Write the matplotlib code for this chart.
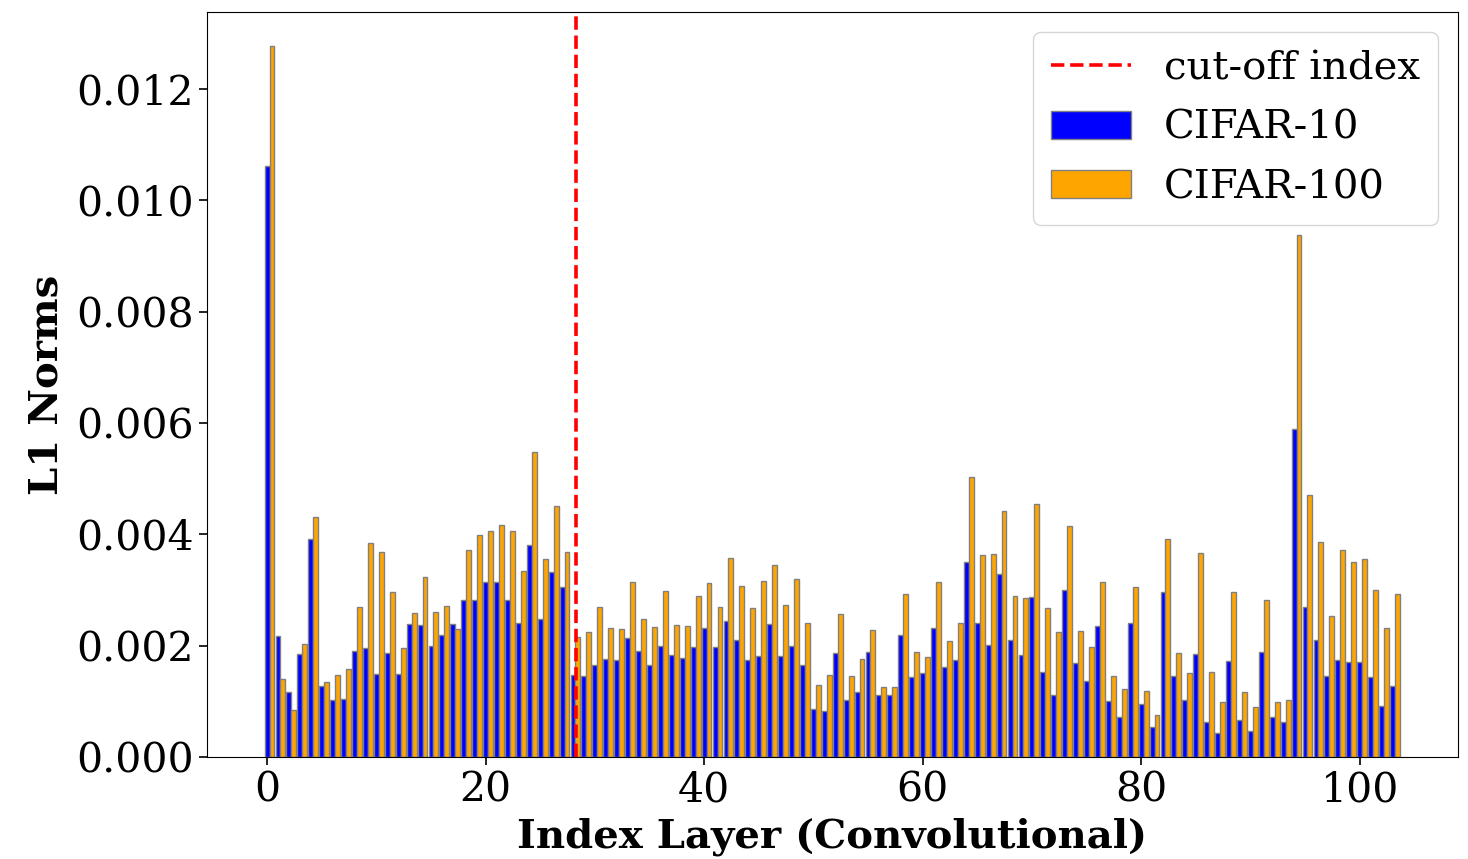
import numpy as np
import matplotlib
matplotlib.use("Agg")
import matplotlib.pyplot as plt

layer_index = np.arange(104)

cifar10 = [
    0.01062, 0.00217, 0.00117, 0.00185, 0.00392, 0.00128, 0.00102, 0.00104, 0.00191, 0.00196,
    0.00149, 0.00186, 0.00149, 0.00239, 0.00237, 0.00199, 0.00219, 0.00239, 0.00282, 0.00282,
    0.00315, 0.00315, 0.00282, 0.00240, 0.00381, 0.00247, 0.00333, 0.00305, 0.00147, 0.00146,
    0.00165, 0.00176, 0.00174, 0.00214, 0.00190, 0.00165, 0.00199, 0.00183, 0.00177, 0.00197,
    0.00232, 0.00197, 0.00245, 0.00210, 0.00174, 0.00182, 0.00239, 0.00182, 0.00199, 0.00166,
    0.00087, 0.00083, 0.00186, 0.00102, 0.00116, 0.00189, 0.00111, 0.00111, 0.00220, 0.00144,
    0.00151, 0.00232, 0.00161, 0.00174, 0.00351, 0.00241, 0.00201, 0.00328, 0.00210, 0.00183,
    0.00288, 0.00153, 0.00111, 0.00300, 0.00168, 0.00137, 0.00236, 0.00101, 0.00072, 0.00240,
    0.00095, 0.00054, 0.00296, 0.00146, 0.00102, 0.00185, 0.00062, 0.00044, 0.00172, 0.00066,
    0.00047, 0.00189, 0.00072, 0.00063, 0.00589, 0.00270, 0.00211, 0.00146, 0.00174, 0.00170,
    0.00170, 0.00143, 0.00092, 0.00128,
]

cifar100 = [
    0.01277, 0.00140, 0.00084, 0.00203, 0.00431, 0.00135, 0.00147, 0.00158, 0.00270, 0.00384,
    0.00369, 0.00296, 0.00195, 0.00259, 0.00324, 0.00261, 0.00271, 0.00230, 0.00372, 0.00398,
    0.00405, 0.00416, 0.00405, 0.00334, 0.00548, 0.00356, 0.00450, 0.00368, 0.00216, 0.00224,
    0.00269, 0.00232, 0.00229, 0.00315, 0.00248, 0.00233, 0.00299, 0.00237, 0.00236, 0.00290,
    0.00313, 0.00269, 0.00357, 0.00308, 0.00267, 0.00316, 0.00345, 0.00273, 0.00320, 0.00240,
    0.00129, 0.00147, 0.00256, 0.00146, 0.00176, 0.00228, 0.00126, 0.00126, 0.00293, 0.00188,
    0.00180, 0.00314, 0.00209, 0.00240, 0.00502, 0.00362, 0.00365, 0.00442, 0.00290, 0.00286,
    0.00454, 0.00267, 0.00224, 0.00414, 0.00227, 0.00198, 0.00314, 0.00146, 0.00122, 0.00306,
    0.00119, 0.00075, 0.00392, 0.00186, 0.00151, 0.00367, 0.00153, 0.00099, 0.00296, 0.00116,
    0.00089, 0.00282, 0.00099, 0.00102, 0.00937, 0.00470, 0.00387, 0.00254, 0.00372, 0.00351,
    0.00355, 0.00300, 0.00231, 0.00293,
]

cutoff_index = 28.25

plt.rcParams['font.family'] = ['DejaVu Serif']

fig = plt.figure(figsize=(14.68, 8.59), dpi=100)
ax = fig.add_axes([207 / 1468, 1 - 757 / 859, (1458 - 207) / 1468, (757 - 12) / 859])

width = 0.45
ax.bar(layer_index, cifar10, width=width, color='blue', edgecolor='gray', linewidth=1.0, label='CIFAR-10')
ax.bar(layer_index + width, cifar100, width=width, color='orange', edgecolor='gray', linewidth=1.0, label='CIFAR-100')
ax.axvline(cutoff_index, color='red', linestyle='--', linewidth=2.6, label='cut-off index')

ax.set_xlim(-5.5, 109.0)
ax.set_ylim(0, 0.01338)
ax.set_yticks([0.000, 0.002, 0.004, 0.006, 0.008, 0.010, 0.012])
ax.set_yticklabels(['0.000', '0.002', '0.004', '0.006', '0.008', '0.010', '0.012'])
ax.set_xticks([0, 20, 40, 60, 80, 100])
ax.tick_params(axis='both', labelsize=29.5, length=6, width=1.2)

ax.set_xlabel('Index Layer (Convolutional)', fontsize=29, fontweight='bold', labelpad=5)
ax.set_ylabel('L1 Norms', fontsize=29, fontweight='bold', labelpad=8)

ax.legend(loc='upper right', fontsize=29, labelspacing=0.56, borderpad=0.45)

fig.savefig('out.png', dpi=100)
